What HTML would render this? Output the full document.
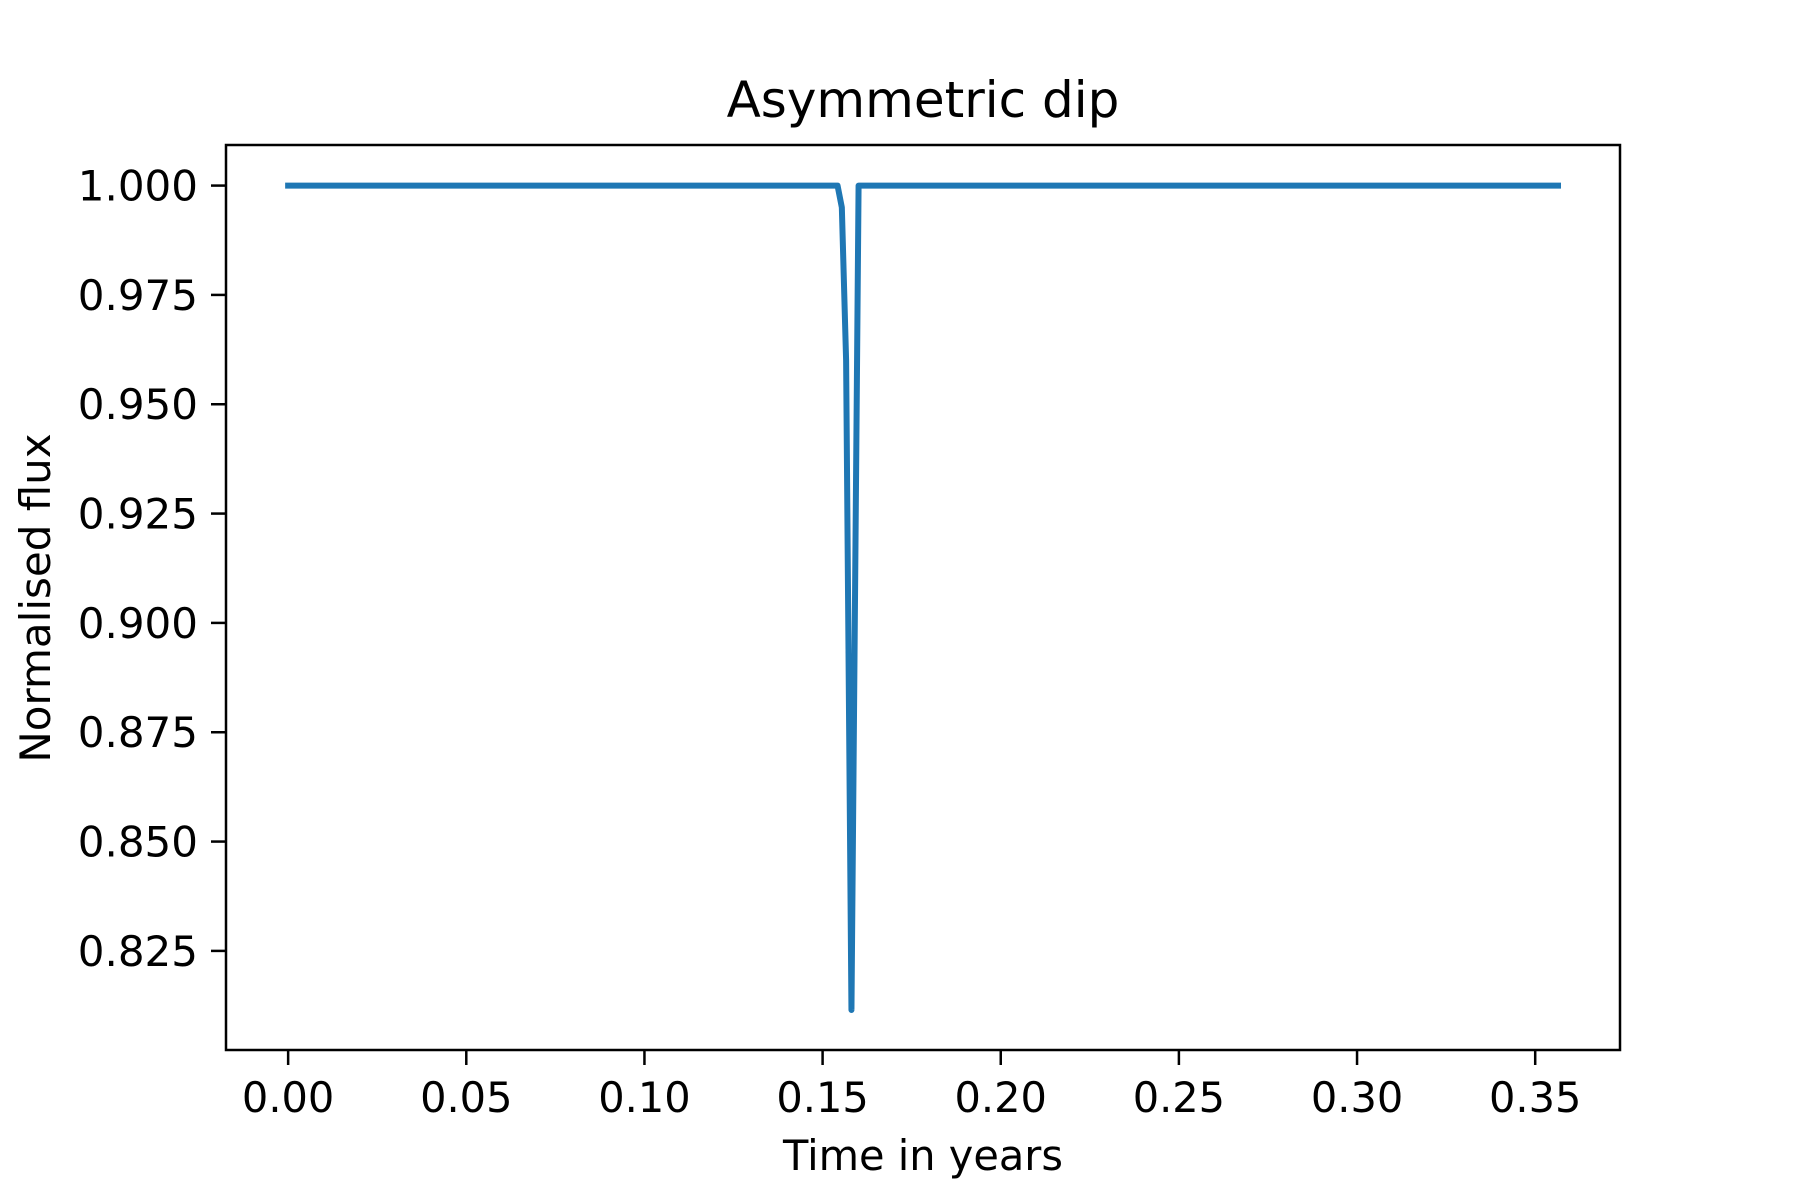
<!DOCTYPE html>
<html><head><meta charset="utf-8"><style>
html,body{margin:0;padding:0;background:#fff;}
svg{display:block;font-family:"DejaVu Sans","Liberation Sans",sans-serif;}
</style></head><body>
<svg id="chart" width="1800" height="1200" viewBox="0 0 1800 1200">
<rect width="1800" height="1200" fill="#fff"/>
<text x="923" y="117" font-size="50" text-anchor="middle">Asymmetric dip</text>
<g id="plot"></g>
<rect x="226" y="145" width="1394" height="905" fill="none" stroke="#000" stroke-width="2.5"/>
<text x="923" y="1170" font-size="41.5" text-anchor="middle">Time in years</text>
<text transform="translate(50,598) rotate(-90)" font-size="42" text-anchor="middle">Normalised flux</text>
</svg>
<script>
const times = [0, 0.1542, 0.1554, 0.1566, 0.1581, 0.1601, 0.3564];
const flux = [1.0, 1.0, 0.995, 0.96, 0.8115, 1.0, 1.0];
const xTicks = [0, 0.05, 0.10, 0.15, 0.20, 0.25, 0.30, 0.35];
const xTickLabels = ["0.00","0.05","0.10","0.15","0.20","0.25","0.30","0.35"];
const yTicks = [0.825, 0.85, 0.875, 0.9, 0.925, 0.95, 0.975, 1.0];
const yTickLabels = ["0.825","0.850","0.875","0.900","0.925","0.950","0.975","1.000"];

const L=226,R=1620,T=145,B=1050;
const xMin=-0.01744,xMax=0.3738,yMin=0.80234,yMax=1.00928;
const sx=v=>L+(v-xMin)/(xMax-xMin)*(R-L);
const sy=v=>B-(v-yMin)/(yMax-yMin)*(B-T);
const NS="http://www.w3.org/2000/svg";
const g=document.getElementById('plot');
function mk(tag,attrs){const e=document.createElementNS(NS,tag);for(const k in attrs)e.setAttribute(k,attrs[k]);g.appendChild(e);return e;}
xTicks.forEach((v,i)=>{
  const t=mk('line',{x1:sx(v),x2:sx(v),y1:B,y2:B+15,stroke:'#000','stroke-width':2.5});
  
  
  const l=mk('text',{x:sx(v),y:B+62,'font-size':41.5,'text-anchor':'middle'});
  l.textContent=xTickLabels[i];
  
  
});
yTicks.forEach((v,i)=>{
  const t=mk('line',{x1:L-15,x2:L,y1:sy(v),y2:sy(v),stroke:'#000','stroke-width':2.5});
  
  
  const l=mk('text',{x:L-28,y:sy(v)+15,'font-size':42,'text-anchor':'end'});
  l.textContent=yTickLabels[i];
  
  
});
const p=mk('polyline',{points:times.map((t,i)=>sx(t)+','+sy(flux[i])).join(' '),fill:'none',stroke:'#1f77b4','stroke-width':6,'stroke-linejoin':'round','stroke-linecap':'square'});


</script>
</body></html>
